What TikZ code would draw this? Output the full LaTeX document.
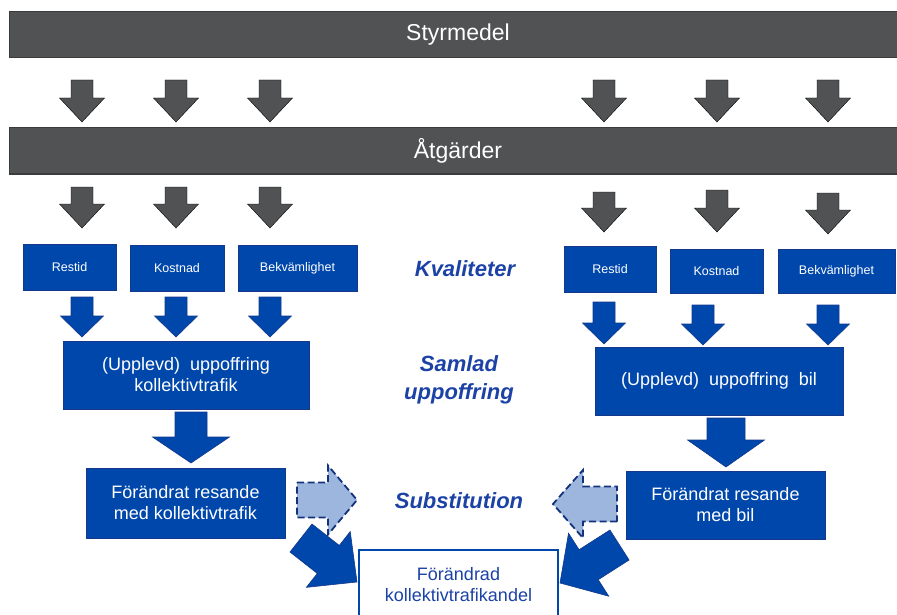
\documentclass[tikz,border=0pt]{standalone}
\usepackage{fontspec}
\setmainfont{Liberation Sans}
\usetikzlibrary{calc}
\definecolor{BG}{HTML}{505254}
\definecolor{BGd}{HTML}{3A3B3D}
\definecolor{BB}{HTML}{0047AB}
\definecolor{BBd}{HTML}{15388A}
\definecolor{BL}{HTML}{9DB6DE}
\definecolor{BT}{HTML}{1C42A6}

% block arrow: [style]{tail}{tip}{shaft half}{head half}{head length}
\newcommand{\fatarrow}[6][]{%
  \coordinate (fa-b) at ($(#3)!#6!(#2)$);
  \draw[#1] ($(#2)!#4!90:(#3)$) -- ($(fa-b)!#4!90:(#3)$)
    -- ($(fa-b)!#5!90:(#3)$) -- (#3) -- ($(fa-b)!#5!-90:(#3)$)
    -- ($(fa-b)!#4!-90:(#3)$) -- ($(#2)!#4!-90:(#3)$) -- cycle;
}

\tikzset{
  bar/.style={fill=BG, draw=BGd, line width=1pt, text=white,
    minimum height=46pt, inner sep=0pt, font=\fontsize{23}{26}\selectfont},
  qbox/.style={fill=BB, draw=BBd, line width=0.8pt, text=white,
    inner sep=0pt, font=\fontsize{12.5}{14}\selectfont},
  sumbox/.style={fill=BB, draw=BBd, line width=0.8pt, text=white,
    align=center, inner sep=0pt, font=\fontsize{18}{21}\selectfont},
  endbox/.style={fill=white, draw=BB, line width=1.3pt, text=BT,
    align=center, inner sep=0pt, font=\fontsize{18}{21}\selectfont},
  lbl/.style={text=BT, align=center,
    font=\fontsize{22}{28}\selectfont\bfseries\itshape},
  grayarrow/.style={fill=BG},
  bluearrow/.style={fill=BB, draw=BBd, line width=0.6pt},
  subarrow/.style={fill=BL, draw=BBd!90!black, line width=1.8pt,
    dash pattern=on 7pt off 3.5pt},
}

\begin{document}
\begin{tikzpicture}[x=1pt,y=-1pt]
  \useasboundingbox (0,0) rectangle (897,615);

  % bars
  \node[bar, minimum width=898pt] (styr) at (458,35) {Styrmedel};
  \node[bar, minimum width=898pt] (atg) at (458,151) {Åtgärder};

  \foreach \x/\ya/\yb in {82/80/122,176/80/122,270/80/122,
      604/80/122,717/80/122,828/80/122,
      82/187/228,176/187/228,270/187/228,
      604/192/232,717/190/232,828/193/234}
    \fatarrow[grayarrow]{\x,\ya}{\x,\yb}{11pt}{22.5pt}{24pt};

  % kvaliteter
  \node[qbox, minimum width=93pt, minimum height=46pt] (restK) at (69.5,267) {Restid};
  \node[qbox, minimum width=94pt, minimum height=46pt] (kostK) at (177,268) {Kostnad};
  \node[qbox, minimum width=119pt, minimum height=46pt] (bekvK) at (297.5,268) {Bekvämlighet};
  \node[qbox, minimum width=92pt, minimum height=46pt] (restB) at (610,269) {Restid};
  \node[qbox, minimum width=93pt, minimum height=44pt] (kostB) at (716.5,271) {Kostnad};
  \node[qbox, minimum width=117pt, minimum height=44pt] (bekvB) at (836.5,271) {Bekvämlighet};

  \foreach \x/\ya/\yb in {82/297/337,176/297/337,270/297/337,
      604/302/344,703/305/345,828/305/345}
    \fatarrow[bluearrow]{\x,\ya}{\x,\yb}{11pt}{21.5pt}{21pt};

  % samlad uppoffring
  \node[sumbox, minimum width=246pt, minimum height=68pt] (uppK) at (186,375)
    {(Upplevd)~ uppoffring\\kollektivtrafik};
  \node[sumbox, minimum width=248pt, minimum height=68pt] (uppB) at (719,381)
    {(Upplevd)~ uppoffring~ bil};

  \coordinate (uppKs) at (191,412);
  \coordinate (uppBs) at (726,418);
  \fatarrow[bluearrow]{uppKs}{191,463}{16pt}{38.5pt}{26pt}
  \fatarrow[bluearrow]{uppBs}{726,467}{19pt}{38.5pt}{27pt}

  % resande
  \node[sumbox, minimum width=199pt, minimum height=70pt] (resK) at (185.5,503)
    {Förändrat resande\\med kollektivtrafik};
  \node[sumbox, minimum width=199pt, minimum height=68pt] (resB) at (725.5,505)
    {Förändrat resande\\med bil};

  % substitution
  \coordinate (subK) at (297,500);
  \coordinate (subB) at (617,504);
  \fatarrow[subarrow]{subK}{357,500}{17.5pt}{34.5pt}{29pt}
  \fatarrow[subarrow]{subB}{553,504}{17.5pt}{34pt}{30pt}

  \coordinate (diagK) at (301,538);
  \coordinate (diagB) at (619.5,545);
  \fatarrow[bluearrow]{diagK}{357,582}{17.8pt}{35.5pt}{36.5pt}
  \fatarrow[bluearrow]{diagB}{560,583}{17.8pt}{37.4pt}{34pt}

  \node[endbox, minimum width=199pt, minimum height=70pt] (andel) at (458.5,585)
    {Förändrad\\kollektivtrafikandel};

  % labels
  \node[lbl] (kval) at (465,269) {Kvaliteter};
  \node[lbl] (saml) at (459,380) {Samlad\\uppoffring};
  \node[lbl] (subs) at (459,501) {Substitution};
\end{tikzpicture}
\end{document}
